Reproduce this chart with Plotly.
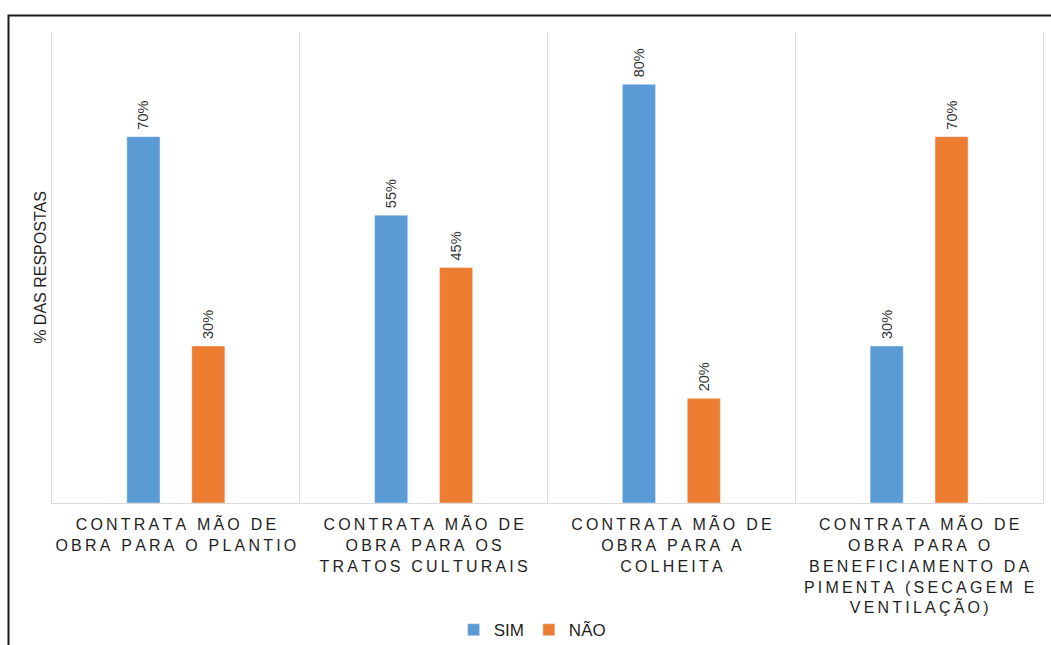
import plotly.graph_objects as go

CATEGORIES = [
    "CONTRATA MÃO DE<br>OBRA PARA O PLANTIO",
    "CONTRATA MÃO DE<br>OBRA PARA OS<br>TRATOS CULTURAIS",
    "CONTRATA MÃO DE<br>OBRA PARA A<br>COLHEITA",
    "CONTRATA MÃO DE<br>OBRA PARA O<br>BENEFICIAMENTO DA<br>PIMENTA (SECAGEM E<br>VENTILAÇÃO)",
]
SIM = [0.70, 0.55, 0.80, 0.30]
NAO = [0.30, 0.45, 0.20, 0.70]

_BLUE = "#5B9BD5"
_ORANGE = "#ED7D31"
_GRID = "#D9D9D9"
_TEXT = "#1F1F1F"
_FONT = "Liberation Sans, Arial, sans-serif"


def _spaced(label: str) -> str:
    # Excel-style letter spacing on the category labels
    lines = label.split("<br>")
    return "<br>".join("\u2009".join(line) for line in lines)


fig = go.Figure()
for name, values, color in (("SIM", SIM, _BLUE), ("NÃO", NAO, _ORANGE)):
    fig.add_bar(
        x=CATEGORIES,
        y=values,
        name=name,
        marker_color=color,
        texttemplate="\u00a0%{y:.0%}",
        textposition="outside",
        textangle=-90,
        textfont={"size": 16, "color": "#333333", "family": _FONT},
        cliponaxis=False,
    )

fig.update_layout(
    width=1051,
    height=645,
    margin={"l": 52, "r": 8, "t": 32, "b": 142, "autoexpand": False},
    paper_bgcolor="white",
    plot_bgcolor="white",
    font={"family": _FONT, "color": _TEXT},
    barmode="group",
    bargap=0.476,
    bargroupgap=0.49,
    showlegend=True,
    legend={
        "orientation": "h",
        "x": 0.485,
        "xanchor": "center",
        "y": -0.27,
        "yanchor": "middle",
        "font": {"size": 17, "color": _TEXT},
        "itemwidth": 30,
    },
)
fig.update_xaxes(
    tickmode="array",
    tickvals=CATEGORIES,
    ticktext=[_spaced(c) for c in CATEGORIES],
    tickson="boundaries",
    ticks="",
    showgrid=True,
    gridcolor=_GRID,
    gridwidth=1,
    showline=True,
    linecolor=_GRID,
    linewidth=1,
    tickfont={"size": 16, "color": _TEXT},
    ticklabelstandoff=7,
    tickangle=0,
    automargin=False,
)
fig.update_yaxes(
    range=[0, 0.9],
    showgrid=False,
    zeroline=False,
    showticklabels=False,
    showline=True,
    linecolor=_GRID,
    linewidth=1,
    mirror=True,
    automargin=False,
    title={"text": "% DAS RESPOSTAS", "font": {"size": 16, "color": _TEXT}, "standoff": 0},
)

# chart-area frame (top and left edges visible in the original crop)
fig.add_shape(
    type="rect",
    xref="paper",
    yref="paper",
    x0=-0.0439,
    x1=1.03,
    y0=-0.35,
    y1=1.035,
    line={"color": "#1a1a1a", "width": 2},
    layer="above",
)

fig.write_html(
    "out.html",
    config={"displayModeBar": False},
    post_script="document.body.style.margin = '0';",
)
